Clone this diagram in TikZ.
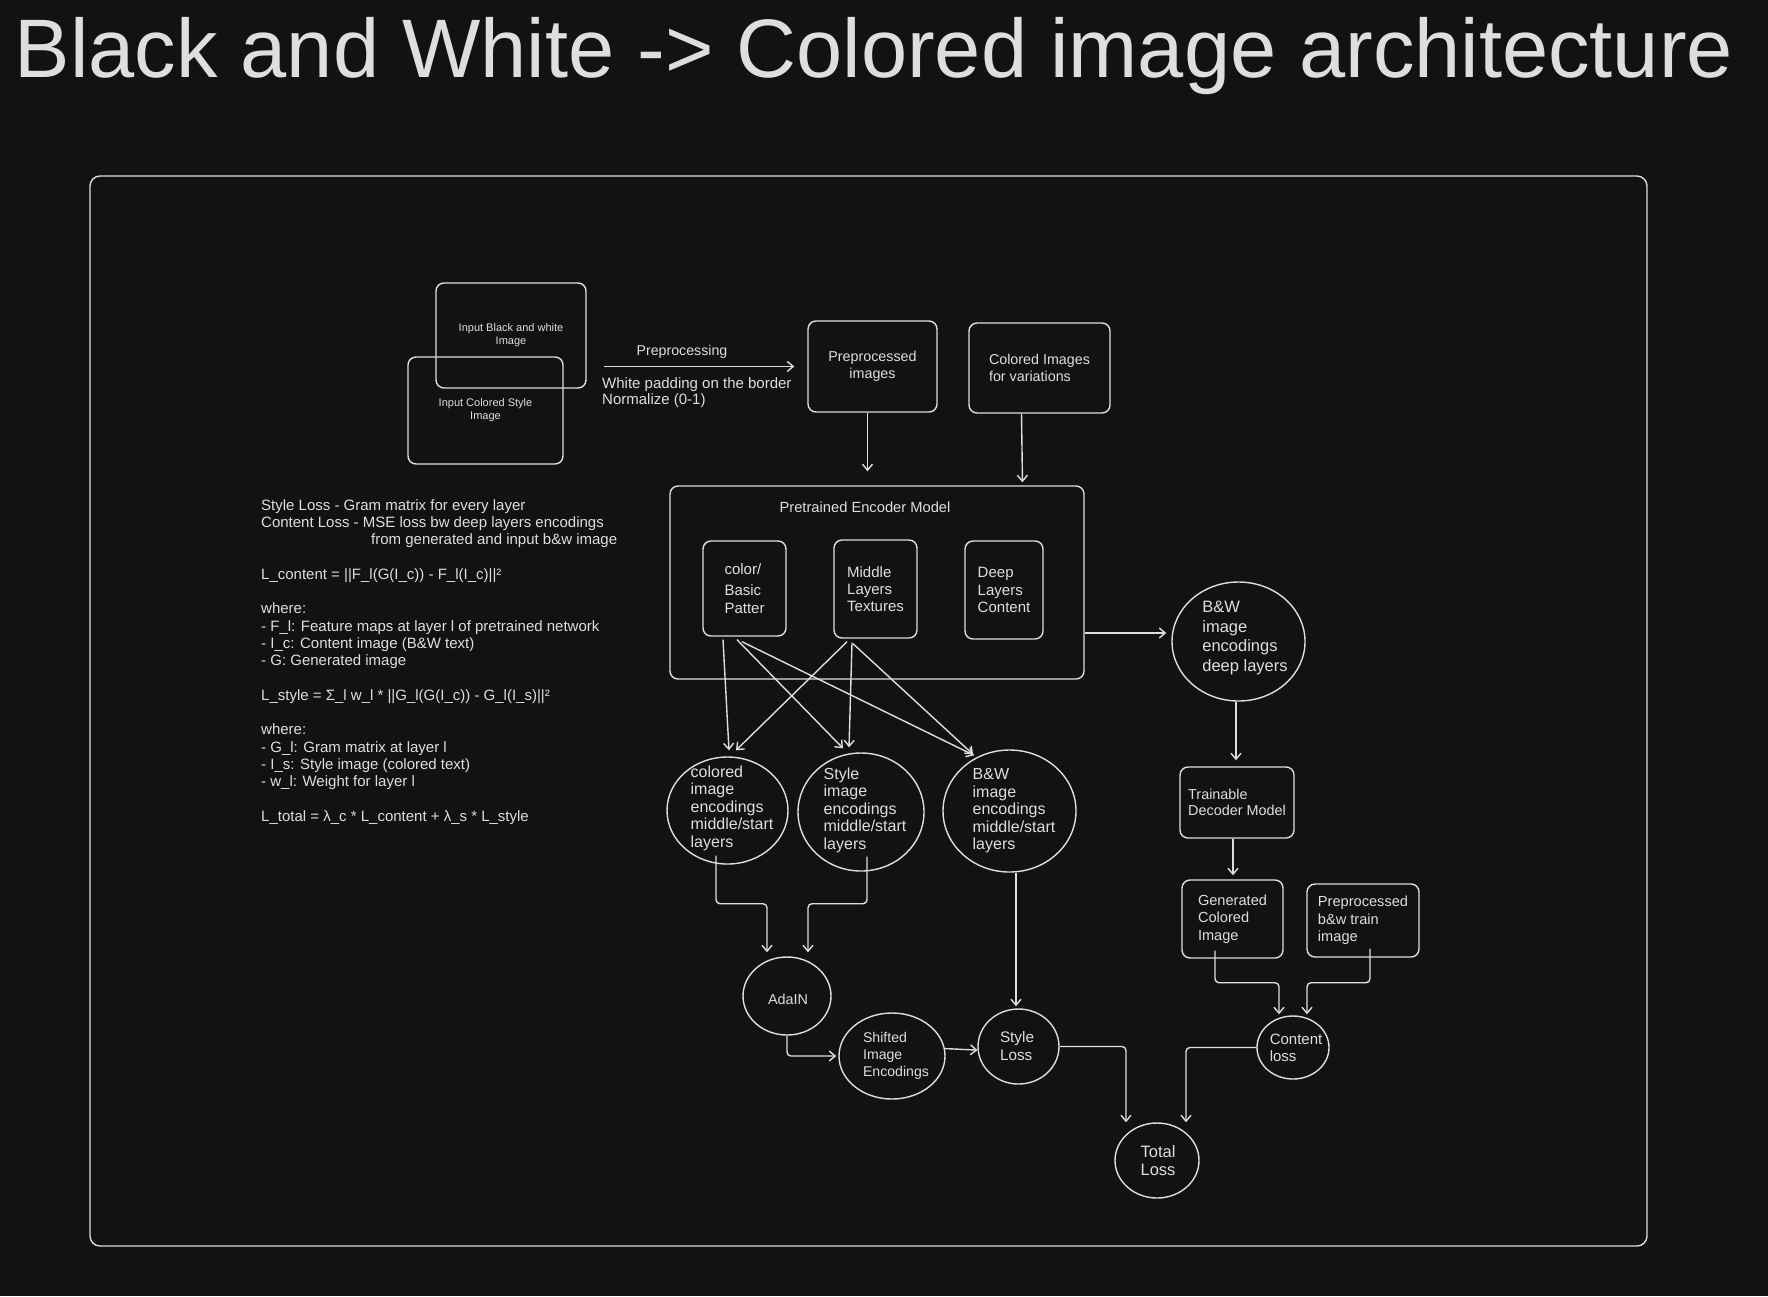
\documentclass[tikz,border=0pt]{standalone}
\usepackage{fontspec}
\setmainfont{Liberation Sans}
\usetikzlibrary{shapes.geometric,arrows.meta,calc}
\definecolor{bg}{HTML}{121212}
\definecolor{fg}{HTML}{DEDEDE}
\begin{document}
\begin{tikzpicture}[x=1pt,y=-1pt,
  fs/.style 2 args={font=\fontsize{#1pt}{#2pt}\selectfont},
  arr/.style={draw=fg, line width=1.4pt, -{Straight Barb[length=6pt,width=10pt]}, rounded corners=4pt},
  rbox/.style={draw=fg, line width=1.4pt, rounded corners=8pt, text=fg, align=left, inner sep=0pt},
  ell/.style={draw=fg, line width=1.4pt, ellipse, inner sep=0pt},
  txt/.style={text=fg, inner sep=0pt, align=left}]
\fill[bg] (0,0) rectangle (1768,1296);
\useasboundingbox (0,0) rectangle (1768,1296);

% title and frame
\node[txt, anchor=base, fs={83}{90}] (title) at (874,77) {Black and White -> Colored image architecture};
\node[draw=fg, line width=1.4pt, rounded corners=10pt, minimum width=1557pt, minimum height=1070pt, inner sep=0pt] (frame) at (868.5,711) {};

% inputs
\node[rbox, align=center, minimum width=150pt, minimum height=105pt, fs={11}{13}] (inbw) at (511,335.5) {Input Black and white\\Image};
\node[rbox, align=center, minimum width=155pt, minimum height=107pt, fs={11}{13}] (incol) at (485.5,410.5) {Input Colored Style\\Image};

\node[txt, fs={14.2}{16}] (pplabel) at (682,352) {Preprocessing};
\node[txt, anchor=north west, fs={15}{16.5}] (ppnote) at (602,377) {White padding on the border\\Normalize (0-1)};

\node[rbox, align=center, minimum width=129pt, minimum height=91pt, fs={14.3}{16.5}] (prep) at (872.5,366.5) {Preprocessed\\images};
\node[rbox, minimum width=141pt, minimum height=90pt, fs={14.3}{16.5}] (colimg) at (1039.5,368) {Colored Images\\for variations};

% encoder
\node[rbox, minimum width=414pt, minimum height=193pt] (enc) at (877,582.5) {};
\node[txt, fs={14.7}{17}] (enctitle) at (865,507) {Pretrained Encoder Model};
\node[rbox, minimum width=83pt, minimum height=95pt, fs={15}{17.3}] (cbox) at (744.5,588.5) {color/\\[4pt]Basic\\Patter};
\node[rbox, minimum width=83pt, minimum height=98pt, fs={15}{17.3}] (mbox) at (875.5,589) {Middle\\Layers\\Textures};
\node[rbox, minimum width=78pt, minimum height=98pt, fs={15}{17.3}] (dbox) at (1004,590) {Deep\\Layers\\Content};

% ellipses
\node[ell, minimum width=133pt, minimum height=119pt] (bwdeep) at (1238.5,641.5) {};
\node[txt, fs={16.5}{19.5}] (bwdeept) at (1245,638) {B\&W\\image\\encodings\\deep layers};

\node[ell, minimum width=121pt, minimum height=107pt] (colenc) at (727.5,810.5) {};
\node[txt, fs={16}{17.5}] (colenct) at (732,808) {colored\\image\\encodings\\middle/start\\layers};
\node[ell, minimum width=126pt, minimum height=118pt] (styenc) at (861,812) {};
\node[txt, fs={16}{17.5}] (styenct) at (865,810) {Style\\image\\encodings\\middle/start\\layers};
\node[ell, minimum width=133pt, minimum height=122pt] (bwmid) at (1009.5,811) {};
\node[txt, fs={16}{17.5}] (bwmidt) at (1014,811) {B\&W\\image\\encodings\\middle/start\\layers};

\node[ell, minimum width=88pt, minimum height=78pt] (adain) at (787,996) {};
\node[txt, fs={14.4}{17}] (adaint) at (788,999) {AdaIN};
\node[ell, minimum width=106pt, minimum height=86pt] (shifted) at (892,1056) {};
\node[txt, fs={14.1}{17}] (shiftedt) at (896,1056) {Shifted\\Image\\Encodings};
\node[ell, minimum width=81pt, minimum height=75pt] (sloss) at (1018.5,1046.5) {};
\node[txt, fs={15.3}{17.5}] (slosst) at (1017,1046) {Style\\Loss};
\node[ell, minimum width=84pt, minimum height=75pt] (total) at (1157,1160.5) {};
\node[txt, fs={16.5}{18}] (totalt) at (1158,1161) {Total\\Loss};
\node[ell, minimum width=72pt, minimum height=63pt] (closs) at (1293,1047.5) {};
\node[txt, fs={15}{17}] (closst) at (1296,1048) {Content\\loss};

% decoder side
\node[rbox, minimum width=114pt, minimum height=71pt, fs={14.4}{16.5}] (dec) at (1237,802.5) {Trainable\\Decoder Model};
\node[rbox, minimum width=101pt, minimum height=78pt, fs={14.6}{17.3}] (gen) at (1232.5,919) {Generated\\Colored\\Image};
\node[rbox, minimum width=112pt, minimum height=73pt, fs={14.6}{17.3}] (ptrain) at (1363,920.5) {Preprocessed\\b\&w train\\image};

% notes
\node[txt, anchor=north west, fs={15}{17.3}] (notes) at (261,499) {Style Loss - Gram matrix for every layer\\
Content Loss - MSE loss bw deep layers encodings\\
\hspace*{110pt}from generated and input b\&w image\\[17.3pt]
L\_content = ||F\_l(G(I\_c)) - F\_l(I\_c)||²\\[17.3pt]
where:\\
- F\_l: Feature maps at layer l of pretrained network\\
- I\_c: Content image (B\&W text)\\
- G: Generated image\\[17.3pt]
L\_style = Σ\_l w\_l * ||G\_l(G(I\_c)) - G\_l(I\_s)||²\\[17.3pt]
where:\\
- G\_l: Gram matrix at layer l\\
- I\_s: Style image (colored text)\\
- w\_l: Weight for layer l\\[17.3pt]
L\_total = λ\_c * L\_content + λ\_s * L\_style};

% connectors
\draw[arr, shorten <=17pt, shorten >=13pt] (inbw.east |- prep.west) -- (prep.west);
\draw[arr, shorten >=14pt] ($(prep.south)+(-5,0)$) -- ($(prep.south |- enc.north)+(-5,0)$);
\draw[arr, shorten >=3pt] ($(colimg.south)+(-18,0)$) -- ($(colimg.south |- enc.north)+(-17,0)$);
\coordinate (encout) at ($(enc.east)+(0,50.5)$);
\draw[arr, shorten >=5pt] (encout) -- (encout -| bwdeep.west);

\draw[arr] ($(cbox.south)+(-21.5,3)$) -- ($(colenc.north)+(1.5,-6)$);
\draw[arr] ($(cbox.south)+(-7.5,3)$) -- ($(styenc.north)+(-18,-4)$);
\draw[arr] ($(cbox.south)+(-2.5,5)$) -- ($(bwmid.north)+(-35.5,6)$);
\draw[arr] ($(mbox.south)+(-28.5,3)$) -- ($(colenc.north)+(8.5,-6)$);
\draw[arr] ($(mbox.south)+(-23.5,4)$) -- ($(styenc.north)+(-12,-5)$);
\draw[arr] ($(mbox.south)+(-22.5,5)$) -- ($(bwmid.north)+(-36.5,5)$);

\draw[arr] ($(colenc.south)+(-11.5,-9)$) -- ++(0,48) -| ($(adain.north)+(-20,-4)$);
\draw[arr] ($(styenc.south)+(6,-15)$) -- ++(0,47) -| ($(adain.north)+(21,-4)$);
\draw[arr] ($(bwmid.south)+(6.5,0)$) -- ($(sloss.north)+(-2.5,-2)$);
\draw[arr] (adain.south) |- ($(shifted.west)+(-2,0)$);
\draw[arr] (shifted.8) -- (sloss.185);
\draw[arr] (sloss.east) -| ($(total.north)+(-31,0)$);
\draw[arr] (closs.west) -| ($(total.north)+(29,0)$);

\draw[arr] ($(bwdeep.south)+(-2.5,0)$) -- ($(dec.north)+(-1,-6)$);
\draw[arr] ($(dec.south)+(-4,0)$) -- ($(gen.north)+(0.5,-4)$);
\draw[arr] ($(gen.south)+(-17.5,-8)$) -- ++(0,32) -| ($(closs.north)+(-14,-1)$);
\draw[arr] ($(ptrain.south)+(7,-9)$) -- ++(0,34) -| ($(closs.north)+(14,-1)$);
\end{tikzpicture}
\end{document}
